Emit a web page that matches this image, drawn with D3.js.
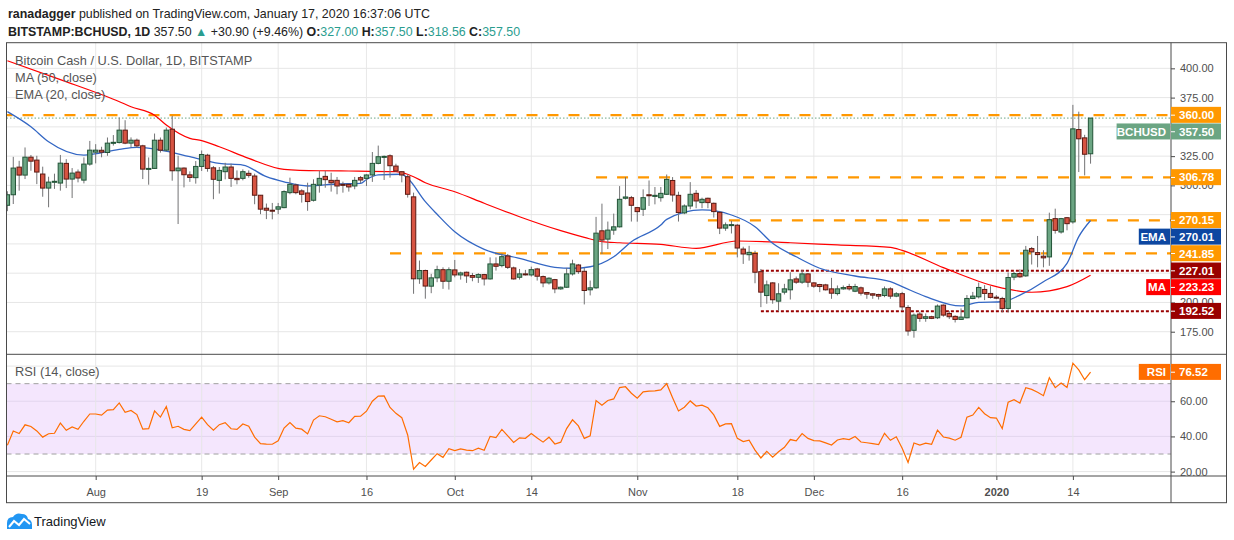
<!DOCTYPE html>
<html>
<head>
<meta charset="utf-8">
<script src="https://cdn.jsdelivr.net/npm/d3@7/dist/d3.min.js"></script>
<style>
  body { margin: 0; background: #fff; }
  svg { display: block; font-family: "Liberation Sans", Arial, sans-serif; }
</style>
</head>
<body>
<svg id="chart" width="1234" height="540"></svg>
<script>
// daily BCH/USD candles, first one is 2019-07-17
const firstDay = '2019-07-17'
const opens = [283,292,315.6,308.8,324.1,321.6,309.7,297.7,302.8,302,
  318.8,305.4,311.4,304.5,318.2,328.4,330,328.1,336,336.6,
  347.2,336.1,338.6,333.8,313.9,314.5,338.6,330.1,348,312.5,
  314.8,309,306.6,316.2,325.8,315,304.3,311.7,315.7,306,
  306,310.3,308,291.6,280.5,278.8,279.7,281,293.8,300.3,
  295.3,293.5,287.3,300.3,307.7,304.3,304.3,300.9,300.9,299.5,
  306.6,306,308.9,318.8,324.3,325.3,316.5,311.7,307.4,290.2,
  220.2,227.3,213.9,221,228,218.1,227.8,223.5,225.8,223,
  221.5,223.8,220.1,232.9,231.5,239.7,229.5,221.5,224.4,223.5,
  228.6,222.1,216.7,219.5,211.6,213,224.4,232,226.6,210.8,
  212.5,261.2,254.1,261.8,264.6,289,289.5,281,279.6,292,
  290.6,289.5,292.4,304.2,291.5,276.5,282.4,293.2,285.3,289,
  284.7,277,263.5,266,266,245.6,240.8,241.9,226.3,205.9,
  216.7,201.1,208.8,210.8,220.1,217.3,224.4,216.7,215.3,215,
  211.6,207.6,211.6,213.6,209.6,212.5,208.5,207.4,206.8,205.9,
  211.6,205.4,207.5,195.7,176.2,190.1,186.4,187.8,186.9,197.7,
  190.6,188.1,185.5,186.9,203.4,204.8,211.1,207.7,204.5,203.4,
  194.9,221.6,224.7,222.7,246,242.6,239.5,238.9,271.6,260.2,
  272.4,268.8,347.7,340.6,327]
const highs = [295,324.4,321,332.4,326,325.3,316,307.4,310,326,
  322.4,314.8,313.6,323.9,338,335.2,333,340.9,343,358,
  355.7,341,340,334.7,323.9,344.3,340.9,349.4,359.4,325.3,
  315.3,312,320.8,329.8,327,316.5,315.7,319.3,318.5,312.8,
  313.7,312.8,310,291.8,284.5,285,285,295.8,306.6,301.5,
  296.7,302.3,305.2,312.3,312.3,310.8,307.2,303.2,301.5,307.2,
  308,309.4,328.5,334,325.5,326.5,318.5,312,309.4,293.8,
  235.8,228,224.4,231.4,230,230,236.3,226.3,226.3,225.2,
  225,224.4,238.5,238.5,241.9,241.4,230.6,228.6,227.8,230.6,
  229.5,223,221.5,220.1,213.6,229.5,236.5,232.9,229.5,218.7,
  273.1,284.4,269.1,275.9,299.4,307.1,291,281.6,296.6,304.2,
  298.6,298.6,309.3,307.1,294.6,283.8,302.8,296,289.5,289.5,
  285.3,278.2,268.3,269.7,266.9,247.6,248.4,244.2,228.6,218.7,
  217.3,216.4,215.9,225.8,222.1,227.8,225,217.3,215.9,215.9,
  221,214.5,214.5,215.9,215.9,213.6,209,207.9,207.4,213.6,
  213,208.8,209,197.7,190.6,192,190.6,188.6,198.3,198.3,
  192.6,189,194.9,206.3,209,217,214.8,213.9,206.3,204.8,
  225.6,226.1,228.4,248.3,247.4,256.8,244.6,276.7,280.1,272.2,
  273,368.8,363,343.2,357.5]
const lows = [278,284.1,295.5,305.4,312.5,301.1,290.3,281.3,297,295.5,
  297.7,289.2,302.6,301.7,316.8,318.8,324,325.3,334,335.8,
  335.2,332.4,332,305.4,300.6,314,328,329,304,267,
  298.3,303,301.5,312.3,311.7,288.2,293,305.2,298.7,300.9,
  304.3,306.6,283.9,275.4,271.2,271,275.4,280.5,292.4,292.4,
  285.3,278.3,286.2,293.8,298,294.7,292.4,293.8,294.7,296.7,
  302,299.5,303,318,304.6,306.6,311.5,302.6,289.6,207.4,
  215.9,203.2,207.9,217.3,211.6,211,221.5,219.5,216.7,218.1,
  216.7,214.5,219.5,227.2,230,228.6,219.5,219.5,223,222.1,
  218.7,213,215.3,207.9,210.8,212.5,223,224.4,198.3,206,
  211.6,241.4,245.6,257.8,264,288,269.1,269,273.9,282.4,
  283.8,286.1,291.8,286.1,269.1,275.4,279.6,280.5,280.5,280.5,
  272.5,258.4,261.2,258.9,238.5,232.9,235.7,216.4,196,198.9,
  198.9,192.6,206.8,202.5,215.9,215.9,213,212.5,208.8,210.2,
  203.1,206,210.8,210.2,208.8,205.9,203.1,203.1,202.5,204.5,
  203.1,204.5,193,171.6,169.9,183.5,183.5,185.8,185.8,187.8,
  185.8,182.9,185,186.4,202.8,203.4,202,203.4,202.8,191.5,
  191.5,219,221,221.9,232.4,230,230,231.3,258.8,258.8,
  261.6,267.3,311.4,308.5,318.56]
const closes = [292,314.8,308.8,324.1,320.7,311.4,297.7,302.8,303.5,319,
  305.4,310.5,306.3,318.2,330.1,330.1,328.4,336.1,336.8,347.2,
  336.1,338.6,333.8,313.9,314.5,338.6,330.1,347.2,312.5,314.8,
  309.1,306.8,316.2,326.4,314.5,305.2,312.8,315.7,306,304.9,
  311.7,308.6,291.6,279.7,278.8,278.5,281.7,294.7,300.9,293.8,
  292.4,286.2,300.9,306,304.9,302.3,299.5,300.6,298.7,304.3,
  304.6,308.9,318.8,324.5,324.8,316.8,312.3,308.9,292.4,220.2,
  227.3,214,221,228,218.1,228,223.5,225.2,222.7,221.5,
  223.8,220.1,232.9,230.9,239.1,230,220.1,224.4,223.8,228,
  222.4,216.7,220.7,211.6,213,224.4,232.9,226.3,210.2,212.5,
  259.2,253.3,261.8,264.6,288.1,290.1,283,277.6,289.5,291.2,
  291.5,293.2,305.1,291.8,276.8,282.4,292.4,286.7,288.1,285.3,
  277.6,263.5,266.3,266.5,246.5,241.4,242.8,225.8,208.8,215,
  202.3,207.4,211.6,219.3,217.3,224.4,217.3,213.9,213.6,210.8,
  207.9,211.6,212.7,211.6,213.6,207.9,207.1,206.2,205.4,211.6,
  205.4,207.4,196.2,175.6,189.2,186.4,187.8,186.4,196.9,189.2,
  187.8,185.5,187.5,203.4,205.4,212.8,207.7,204.3,204,194.9,
  221.3,224.7,221.9,244.6,243.2,240.9,238.1,270.7,261.6,271.6,
  267.3,348.3,339.8,326.6,357.5]

// moving averages (day number from firstDay, value)
const maDays = [0,9,18,21,25,27,31,33,36,41,47,53,58,66,69,71,76,81,87,94,98,101,104,111,117,124,133,141,150,152,159,168,174,180,184]
const maValues = [406.5,390.3,373.6,367.2,360,351.6,340.2,338.2,333,323.1,313.7,312.5,312.3,311.7,307.4,302.3,294.6,284.7,273.2,261.3,255.6,251.9,251,249.6,246.2,252.5,251,249.1,247.1,244.5,229.7,213.5,208.7,213.5,223.23]
const emaDays = [0,4,7,13,19,22,26,31,36,40,44,47,51,56,60,61,63,67,68,71,73,76,81,87,93,96,99,103,106,111,112,118,123,127,130,134,138,144,150,152,156,162,165,169,172,176,180,182,184]
const emaValues = [363,350.1,337.3,325.9,330.8,332.5,330.2,324.5,318.8,317.4,307.4,303.1,299.5,301.2,301.8,305,308.9,309.5,306,286.1,275.3,260.4,245.4,237.7,230,229.2,230.5,239,251.9,266.1,271,279,274.7,264.7,250.5,239,229.2,222.6,217.7,213.5,205,197,200.1,200.6,206.3,217.7,233.4,256.2,270.01]

// RSI(14) seed before the first visible day
const rsiSeedGain = 4.3
const rsiSeedLoss = 8.0

// drawn levels
const resistance = [360, 306.78, 270.15, 241.85]
const resistanceFrom = ['2019-07-16', '2019-10-25', '2019-11-13', '2019-09-20']
const support = [227.01, 192.52]
const supportFrom = '2019-11-22'

const tickDates = ['2019-08-01','2019-08-19','2019-09-01','2019-09-16','2019-10-01','2019-10-14','2019-11-01','2019-11-18','2019-12-01','2019-12-16','2020-01-01','2020-01-14']
const tickLabels = ['Aug','19','Sep','16','Oct','14','Nov','18','Dec','16','2020','14']
const priceTicks = [175,200,225,250,275,300,325,350,375,400]
const rsiTicks = [20,40,60,80]

const svg = d3.select('#chart')
const pLeft = 6.5, pRight = 1171, outerRight = 1226.5
const pTop = 42.7, pSplit = 354.3, rsiBottom = 476, pBottom = 502.7

const green = '#6ba583', greenLine = '#225437'
const red = '#d75442', redLine = '#5b1a13'
const orange = '#ff9800', maroon = '#990000'
const gridColor = '#e6e6e6', frame = '#4a4a4a', axisText = '#4f4f4f'
const fmt = d3.format('.2f')

const candles = closes.map((c, i) => ({
  date: d3.utcDay.offset(new Date(firstDay), i),
  o: opens[i], h: highs[i], l: lows[i], c: c
}))

const x = d3.scaleUtc()
  .domain([new Date('2019-07-16T20:24:00Z'), new Date('2020-01-30T16:00:00Z')])
  .range([pLeft, pRight])
const y = d3.scaleLinear().domain([155.7, 421.9]).range([pSplit, pTop])
const yr = d3.scaleLinear().domain([17.5, 86.7]).range([rsiBottom, pSplit])
const dayX = d => x(d3.utcDay.offset(new Date(firstDay), d))

// RSI, Wilder smoothing
let avgG = rsiSeedGain, avgL = rsiSeedLoss
const rsi = closes.map((c, i) => {
  if (i > 0) {
    const ch = c - closes[i - 1]
    avgG = (avgG * 13 + Math.max(ch, 0)) / 14
    avgL = (avgL * 13 + Math.max(-ch, 0)) / 14
  }
  return 100 - 100 / (1 + avgG / avgL)
})

svg.append('rect').attr('width', 1234).attr('height', 540).attr('fill', '#fff')

const defs = svg.append('defs')
defs.append('clipPath').attr('id', 'mainClip').append('rect')
  .attr('x', pLeft).attr('y', pTop).attr('width', pRight - pLeft).attr('height', pSplit - pTop)
defs.append('clipPath').attr('id', 'rsiClip').append('rect')
  .attr('x', pLeft).attr('y', pSplit).attr('width', pRight - pLeft).attr('height', rsiBottom - pSplit)

// rsi band goes under the grid
svg.append('rect')
  .attr('x', pLeft).attr('width', pRight - pLeft)
  .attr('y', yr(70)).attr('height', yr(30) - yr(70))
  .attr('fill', '#f4e6fd')

// grid
const grid = svg.append('g')
grid.selectAll('.hg').data(priceTicks).enter().append('line')
  .attr('x1', pLeft).attr('x2', pRight).attr('y1', d => y(d)).attr('y2', d => y(d))
  .attr('stroke', gridColor)
grid.selectAll('.rg').data(rsiTicks).enter().append('line')
  .attr('x1', pLeft).attr('x2', pRight).attr('y1', d => yr(d)).attr('y2', d => yr(d))
  .attr('stroke', d => d > 30 && d < 70 ? '#e2d6ee' : gridColor)
grid.selectAll('.vg').data(tickDates).enter().append('line')
  .attr('x1', d => x(new Date(d))).attr('x2', d => x(new Date(d)))
  .attr('y1', pTop).attr('y2', rsiBottom)
  .attr('stroke', gridColor).attr('stroke-opacity', 0.9)

// main pane
const main = svg.append('g').attr('clip-path', 'url(#mainClip)')

main.append('line')
  .attr('x1', pLeft).attr('x2', pRight)
  .attr('y1', y(closes[closes.length - 1])).attr('y2', y(closes[closes.length - 1]))
  .attr('stroke', green).attr('stroke-dasharray', '1.5,2')

resistance.forEach((v, i) => {
  main.append('line')
    .attr('x1', x(new Date(resistanceFrom[i]))).attr('x2', pRight)
    .attr('y1', y(v)).attr('y2', y(v))
    .attr('stroke', orange).attr('stroke-width', 2.2).attr('stroke-dasharray', '11,10')
})
support.forEach(v => {
  main.append('line')
    .attr('x1', x(new Date(supportFrom))).attr('x2', pRight)
    .attr('y1', y(v)).attr('y2', y(v))
    .attr('stroke', maroon).attr('stroke-width', 2).attr('stroke-dasharray', '3,2')
})

const smooth = d3.line().curve(d3.curveMonotoneX)
main.append('path')
  .attr('d', smooth(maDays.map((d, i) => [dayX(d), y(maValues[i])])))
  .attr('fill', 'none').attr('stroke', '#ff0000').attr('stroke-width', 1.2)
main.append('path')
  .attr('d', smooth(emaDays.map((d, i) => [dayX(d), y(emaValues[i])])))
  .attr('fill', 'none').attr('stroke', '#3467c4').attr('stroke-width', 1.3)

const bw = 4.4
const cg = main.selectAll('.candle').data(candles).enter().append('g')
cg.append('line')
  .attr('x1', d => x(d.date)).attr('x2', d => x(d.date))
  .attr('y1', d => y(d.h)).attr('y2', d => y(d.l))
  .attr('stroke', '#737375')
cg.append('rect')
  .attr('x', d => x(d.date) - bw / 2)
  .attr('y', d => y(Math.max(d.o, d.c)))
  .attr('width', bw)
  .attr('height', d => Math.max(1, Math.abs(y(d.o) - y(d.c))))
  .attr('fill', d => d.c >= d.o ? green : red)
  .attr('stroke', d => d.c >= d.o ? greenLine : redLine)
  .attr('stroke-width', 1)

// rsi pane
const rp = svg.append('g').attr('clip-path', 'url(#rsiClip)')
;[70, 30].forEach(v => {
  rp.append('line').attr('x1', pLeft).attr('x2', pRight).attr('y1', yr(v)).attr('y2', yr(v))
    .attr('stroke', '#a0a0a0').attr('stroke-dasharray', '5,4')
})
rp.append('path')
  .attr('d', d3.line()(candles.map((d, i) => [x(d.date), yr(rsi[i])])))
  .attr('fill', 'none').attr('stroke', '#ff6d00').attr('stroke-width', 1.2)

// frame
const fr = svg.append('g').attr('stroke', frame).attr('fill', 'none')
fr.append('rect').attr('x', pLeft).attr('y', pTop).attr('width', outerRight - pLeft).attr('height', pBottom - pTop)
fr.append('line').attr('x1', pRight).attr('x2', pRight).attr('y1', pTop).attr('y2', pBottom)
fr.append('line').attr('x1', pLeft).attr('x2', outerRight).attr('y1', pSplit).attr('y2', pSplit)
fr.append('line').attr('x1', pLeft).attr('x2', outerRight).attr('y1', rsiBottom).attr('y2', rsiBottom)

// value tags on the price scale
const tags = [
  { v: resistance[0], fill: orange },
  { v: closes[closes.length - 1], fill: green, name: 'BCHUSD' },
  { v: resistance[1], fill: orange },
  { v: resistance[2], fill: orange },
  { v: emaValues[emaValues.length - 1], fill: '#0d47a1', name: 'EMA' },
  { v: resistance[3], fill: orange },
  { v: support[0], fill: maroon },
  { v: maValues[maValues.length - 1], fill: '#ff0000', name: 'MA' },
  { v: support[1], fill: maroon }
].map(t => Object.assign(t, { ty: y(t.v) }))
tags.sort((a, b) => a.ty - b.ty)
const tagH = 16.6
for (let i = 1; i < tags.length; i++) {
  if (tags[i].ty < tags[i - 1].ty + tagH) tags[i].ty = tags[i - 1].ty + tagH
}
const rsiLast = rsi[rsi.length - 1]
const rsiTag = { v: rsiLast, fill: '#ff6d00', name: 'RSI', ty: yr(rsiLast) }

// axis labels that sit under a tag are hidden, as on the price scale of the original
const covered = (py, list) => list.some(t => Math.abs(t.ty - py) < 7)

const ya = svg.append('g').attr('transform', `translate(${pRight},0)`)
  .call(d3.axisRight(y).tickValues(priceTicks.filter(v => !covered(y(v), tags))).tickFormat(fmt).tickSize(4).tickPadding(5))
ya.select('.domain').remove()
ya.selectAll('line').attr('stroke', frame)
ya.selectAll('text').attr('fill', axisText).attr('font-size', 11).attr('font-family', '"Liberation Sans", Arial, sans-serif')

const ra = svg.append('g').attr('transform', `translate(${pRight},0)`)
  .call(d3.axisRight(yr).tickValues(rsiTicks.filter(v => !covered(yr(v), [rsiTag]))).tickFormat(fmt).tickSize(4).tickPadding(5))
ra.select('.domain').remove()
ra.selectAll('line').attr('stroke', frame)
ra.selectAll('text').attr('fill', axisText).attr('font-size', 11).attr('font-family', '"Liberation Sans", Arial, sans-serif')

// time axis
const xa = svg.append('g').attr('transform', `translate(0,${rsiBottom})`)
  .call(d3.axisBottom(x).tickValues(tickDates.map(d => new Date(d))).tickFormat((d, i) => tickLabels[i]).tickSize(4).tickPadding(8))
xa.select('.domain').remove()
xa.selectAll('line').attr('stroke', frame)
xa.selectAll('text').attr('fill', axisText).attr('font-size', 11)
  .attr('font-family', '"Liberation Sans", Arial, sans-serif')
  .attr('font-weight', (d, i) => tickLabels[i] === '2020' ? 'bold' : 'normal')

const tg = svg.append('g').attr('font-size', 11.5).attr('font-weight', 'bold')
tags.concat([rsiTag]).forEach(t => {
  tg.append('rect').attr('x', pRight).attr('y', t.ty - tagH / 2).attr('width', 50).attr('height', tagH - 0.6).attr('fill', t.fill)
  tg.append('line').attr('x1', pRight).attr('x2', pRight + 4).attr('y1', t.ty).attr('y2', t.ty).attr('stroke', '#fff')
  tg.append('text').attr('x', pRight + 8).attr('y', t.ty + 4).attr('fill', '#fff').text(fmt(t.v))
  if (t.name) {
    const w = t.name.length * 7.4 + 9
    tg.append('rect').attr('x', pRight - w - 1).attr('y', t.ty - tagH / 2).attr('width', w).attr('height', tagH - 0.6).attr('fill', t.fill)
    tg.append('text').attr('x', pRight - 5).attr('y', t.ty + 4).attr('text-anchor', 'end').attr('fill', '#fff').text(t.name)
  }
})

// legends
const lg = svg.append('g').attr('fill', '#555').attr('font-size', 12.8)
lg.append('text').attr('x', 15).attr('y', 65).text('Bitcoin Cash / U.S. Dollar, 1D, BITSTAMP')
lg.append('text').attr('x', 15).attr('y', 82).text('MA (50, close)')
lg.append('text').attr('x', 15).attr('y', 99).text('EMA (20, close)')
lg.append('text').attr('x', 15).attr('y', 376).text('RSI (14, close)')

// header
const h1 = svg.append('text').attr('x', 8).attr('y', 18).attr('font-size', 12.4).attr('fill', '#222')
h1.append('tspan').attr('font-weight', 'bold').text('ranadagger')
h1.append('tspan').text(' published on TradingView.com, January 17, 2020 16:37:06 UTC')

const teal = '#2a9d8f'
const last = candles[candles.length - 1]
const prevClose = closes[closes.length - 2]
const chg = last.c - prevClose
const h2 = svg.append('text').attr('x', 8).attr('y', 36).attr('font-size', 12.4).attr('fill', '#222')
h2.append('tspan').attr('font-weight', 'bold').text('BITSTAMP:BCHUSD, 1D')
h2.append('tspan').text(' ' + fmt(last.c) + ' ')
h2.append('tspan').attr('fill', teal).text('▲')
h2.append('tspan').text(' +' + fmt(chg) + ' (+' + fmt(chg / prevClose * 100) + '%) ')
;[['O:', last.o], ['H:', last.h], ['L:', last.l], ['C:', last.c]].forEach((p, i) => {
  h2.append('tspan').attr('font-weight', 'bold').text(p[0])
  h2.append('tspan').attr('fill', teal).text(fmt(p[1]) + (i < 3 ? ' ' : ''))
})

// tradingview mark
const logo = svg.append('g')
logo.append('path')
  .attr('d', 'M7,529 L7,523 Q7,517 13,517 Q16,512 22,514 Q27,514 28,519 Q32,520 32,525 L32,529 Z')
  .attr('fill', '#2196f3')
logo.append('polyline')
  .attr('points', '9,527 14,521 19,525 24,519 30,524')
  .attr('fill', 'none').attr('stroke', '#fff').attr('stroke-width', 2)
svg.append('text').attr('x', 34).attr('y', 526).attr('font-size', 13).attr('fill', '#131722').text('TradingView')
</script>
</body>
</html>
